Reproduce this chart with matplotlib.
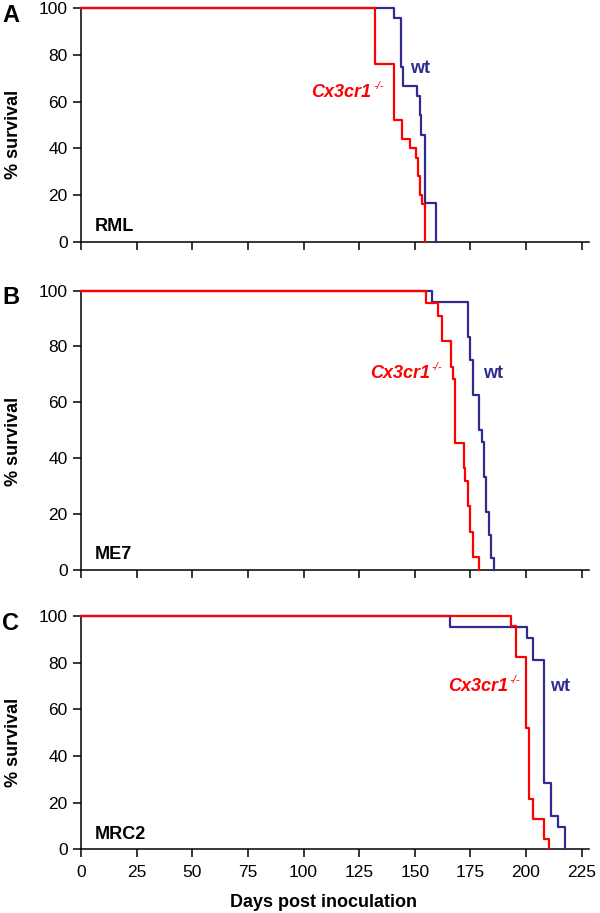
import matplotlib
matplotlib.use('Agg')
import matplotlib.pyplot as plt

plt.rcParams['font.family'] = ['Liberation Sans', 'DejaVu Sans']
plt.rcParams['font.size'] = 12.5

c_wt = '#2e2d8f'
c_ko = '#ff0000'

# survival curves (days, % survival)
rml_ko_days = [0, 132.3, 140.7, 144.4, 147.7, 150.7, 151.5, 152.5, 153.3, 154.4]
rml_ko_surv = [100, 76, 52, 44, 40, 36, 28, 20, 16, 0]
rml_wt_days = [0, 140.7, 144.0, 144.7, 151.1, 152.2, 152.9, 154.7, 159.6]
rml_wt_surv = [100, 95.8, 75, 66.7, 62.5, 54.2, 45.8, 16.7, 0]

me7_ko_days = [0, 155.1, 160.6, 162.1, 166.2, 167.0, 168.1, 172.1, 172.8, 173.8, 174.9, 176.1, 179.0]
me7_ko_surv = [100, 95.5, 90.9, 81.8, 72.7, 68.2, 45.5, 36.4, 31.8, 22.7, 13.6, 4.5, 0]
me7_wt_days = [0, 157.6, 174.0, 174.8, 176.0, 179.0, 180.0, 181.0, 182.0, 183.2, 184.2, 185.5]
me7_wt_surv = [100, 95.8, 83.3, 75, 62.5, 50, 45.8, 33.3, 20.8, 12.5, 4.2, 0]

mrc2_ko_days = [0, 193.1, 195.5, 200.0, 201.3, 203.2, 208.0, 210.4]
mrc2_ko_surv = [100, 95.7, 82.6, 52.2, 21.7, 13.0, 4.3, 0]
mrc2_wt_days = [0, 165.8, 200.3, 203.3, 208.3, 211.3, 214.5, 217.5]
mrc2_wt_surv = [100, 95.2, 90.5, 81.0, 28.6, 14.3, 9.5, 0]

panels = [
    # letter, strain, ko, wt, (ko label right x, y), (wt label x, y), top px, bottom px
    ('A', 'RML', (rml_ko_days, rml_ko_surv), (rml_wt_days, rml_wt_surv), (130.6, 64), (148, 74), 8.3, 241.5),
    ('B', 'ME7', (me7_ko_days, me7_ko_surv), (me7_wt_days, me7_wt_surv), (156.9, 70.4), (180.7, 70.4), 290.7, 569.5),
    ('C', 'MRC2', (mrc2_ko_days, mrc2_ko_surv), (mrc2_wt_days, mrc2_wt_surv), (192, 69.7), (210.8, 69.7), 616, 849.3),
]

W, H = 600, 913
fig = plt.figure(figsize=(W / 100, H / 100), dpi=100)

x_left, x_right = 81, 589
xticks = list(range(0, 226, 25))
yticks = [0, 20, 40, 60, 80, 100]

for i, (letter, strain, ko, wt, ko_lab, wt_lab, top, bot) in enumerate(panels):
    ax = fig.add_axes([x_left / W, 1 - bot / H, (x_right - x_left) / W, (bot - top) / H])
    ax.step(wt[0], wt[1], where='post', color=c_wt, lw=1.6, clip_on=False, zorder=3)
    ax.step(ko[0], ko[1], where='post', color=c_ko, lw=1.6, clip_on=False, zorder=4)

    ax.set_xlim(0, (x_right - x_left) / 2.225)
    ax.set_ylim(0, 100)
    ax.set_xticks(xticks)
    ax.set_yticks(yticks)
    for s in ['top', 'right']:
        ax.spines[s].set_visible(False)
    for s in ['left', 'bottom']:
        ax.spines[s].set_linewidth(1.1)
    ax.tick_params(direction='out', length=5.5, width=1.1, labelsize=12.5)
    ax.tick_params(axis='y', pad=4)
    ax.tick_params(axis='x', pad=6)
    if i < 2:
        ax.tick_params(axis='x', labelbottom=False)

    ax.set_ylabel('% survival', fontsize=13, fontweight='bold')
    ax.yaxis.set_label_coords(-59 / (x_right - x_left), 0.46)

    # strain name in the lower left
    ax.annotate(strain, xy=(0, 0), xycoords='axes fraction', xytext=(10, 11),
                textcoords='offset points', ha='left', va='center',
                fontsize=13, fontweight='bold')

    # curve labels
    ax.text(ko_lab[0], ko_lab[1], 'Cx3cr1', color=c_ko, fontsize=13, fontweight='bold',
            fontstyle='italic', ha='right', va='center')
    ax.annotate('-/-', xy=ko_lab, xytext=(1, 1), textcoords='offset points',
                color=c_ko, fontsize=8, fontstyle='italic', ha='left', va='bottom')
    ax.text(wt_lab[0], wt_lab[1], 'wt', color=c_wt, fontsize=13, fontweight='bold',
            ha='left', va='center')

    fig.text(2 / W, 1 - (top + 7) / H, letter, fontsize=17, fontweight='bold',
             ha='left', va='center')

fig.text(324 / W, 1 - 902 / H, 'Days post inoculation', fontsize=13, fontweight='bold',
         ha='center', va='center')

fig.savefig('out.png', dpi=100)
